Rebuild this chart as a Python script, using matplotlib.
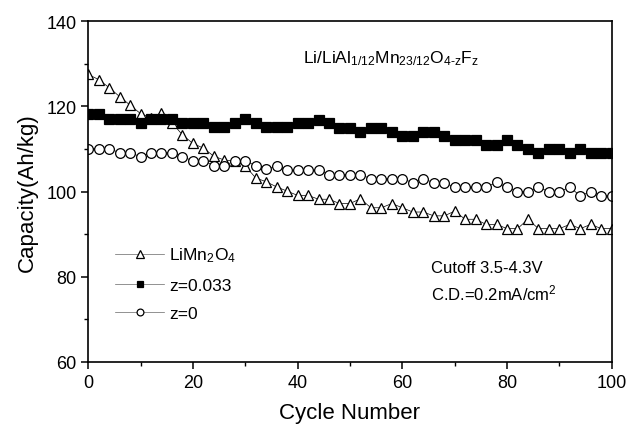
import matplotlib
matplotlib.use("Agg")
import matplotlib.pyplot as plt
from matplotlib.ticker import MultipleLocator

plt.rcParams["font.family"] = ["Liberation Sans", "DejaVu Sans"]
plt.rcParams["mathtext.fontset"] = "custom"
plt.rcParams["mathtext.rm"] = "Liberation Sans"
plt.rcParams["mathtext.it"] = "Liberation Sans"

cycles = list(range(0, 101, 2))

# LiMn2O4 (open triangles)
limn2o4 = [127.5, 126.3, 124.4, 122.3, 120.3, 118.3, 117.3, 118.5, 116.2, 113.3,
           111.3, 110.2, 108.3, 107.4, 107.2, 106.0, 103.2, 102.3, 101.1, 100.1,
           99.1, 99.1, 98.2, 98.2, 97.2, 97.2, 98.3, 96.2, 96.2, 97.2,
           96.2, 95.2, 95.2, 94.3, 94.3, 95.4, 93.5, 93.5, 92.3, 92.3,
           91.3, 91.3, 93.5, 91.3, 91.3, 91.3, 92.3, 91.3, 92.3, 91.3, 91.3]

# z=0.033 (filled squares)
z0033 = [118.1, 118.1, 117.1, 117.1, 117.1, 116.2, 117.1, 117.1, 117.0, 116.2,
         116.2, 116.2, 115.1, 115.1, 116.2, 117.1, 116.2, 115.1, 115.1, 115.1,
         116.0, 116.0, 116.9, 116.0, 115.0, 115.0, 114.1, 115.0, 115.0, 114.1,
         113.0, 113.0, 114.1, 114.1, 113.0, 112.0, 112.0, 112.0, 111.0, 111.0,
         112.0, 111.0, 110.0, 109.0, 110.0, 110.0, 109.0, 110.0, 109.0, 109.0, 109.0]

# z=0 (open circles)
z0 = [110.1, 110.1, 110.1, 109.1, 109.1, 108.2, 109.1, 109.1, 109.1, 108.2,
      107.2, 107.2, 106.1, 106.1, 107.2, 107.2, 106.1, 105.2, 106.0, 105.0,
      105.0, 105.0, 105.0, 104.0, 104.0, 104.0, 104.0, 103.0, 103.0, 103.0,
      103.0, 102.1, 103.0, 102.1, 102.1, 101.0, 101.0, 101.0, 101.0, 102.2,
      101.0, 100.0, 100.0, 101.0, 100.0, 100.0, 101.0, 99.0, 100.0, 99.0, 99.0]

fig = plt.figure(figsize=(6.3, 4.27), dpi=100)
ax = fig.add_axes([0.14, 0.15, 0.831, 0.798])

line_kw = dict(color="black", lw=0.5, mew=0.9)
ax.plot(cycles, limn2o4, marker="^", ms=7.5, mfc="white", mec="black",
        label=r"LiMn$_2$O$_4$", **line_kw)
ax.plot(cycles, z0033, marker="s", ms=6.5, mfc="black", mec="black",
        label="z=0.033", **line_kw)
ax.plot(cycles, z0, marker="o", ms=7, mfc="white", mec="black",
        label="z=0", **line_kw)

ax.set_xlim(0, 100)
ax.set_ylim(60, 140)
ax.xaxis.set_major_locator(MultipleLocator(20))
ax.xaxis.set_minor_locator(MultipleLocator(10))
ax.yaxis.set_major_locator(MultipleLocator(20))
ax.yaxis.set_minor_locator(MultipleLocator(10))
ax.tick_params(which="major", direction="out", length=5, width=1.1, labelsize=13)
ax.tick_params(which="minor", direction="out", length=3, width=1.0)
for s in ax.spines.values():
    s.set_linewidth(1.2)

ax.set_xlabel("Cycle Number", fontsize=16, labelpad=8)
ax.set_ylabel("Capacity(Ah/kg)", fontsize=16, labelpad=6)

leg = ax.legend(loc="lower left", bbox_to_anchor=(0.022, 0.075), frameon=False,
                fontsize=12.5, markerscale=0.7, handlelength=2.8,
                handletextpad=0.3, labelspacing=0.75)
for h in leg.get_lines():
    h.set_color("0.4")
    h.set_markeredgecolor("black")

ax.text(0.41, 0.88, r"Li/LiAl$_{1/12}$Mn$_{23/12}$O$_{4\text{-}z}$F$_{z}$",
        transform=ax.transAxes, fontsize=12.5)
ax.text(0.655, 0.265, "Cutoff 3.5-4.3V", transform=ax.transAxes, fontsize=12)
ax.text(0.655, 0.185, r"C.D.=0.2mA/cm$^2$", transform=ax.transAxes, fontsize=12)

fig.savefig("out.png", dpi=100)
